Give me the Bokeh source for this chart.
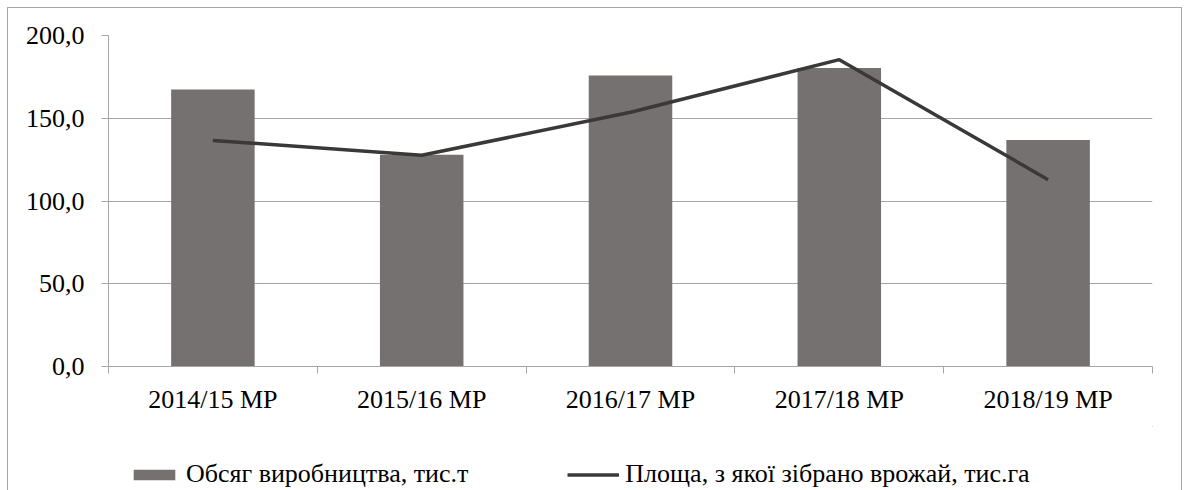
from bokeh.plotting import figure
from bokeh.layouts import column
from bokeh.models import ColumnDataSource, FixedTicker, Legend, LegendItem, Range1d
from bokeh.embed import file_html
from bokeh.resources import INLINE

categories = ["2014/15 МР", "2015/16 МР", "2016/17 МР", "2017/18 МР", "2018/19 МР"]
production = [167.3, 128.0, 175.9, 180.3, 136.9]
area = [136.6, 127.6, 153.6, 185.4, 112.9]
y_ticks = [0, 50, 100, 150, 200]

label_prod = "Обсяг виробництва, тис.т"
label_area = "Площа, з якої зібрано врожай, тис.га"

FONT = "Liberation Serif"
FSIZE = "26px"
GREY = "#a6a6a6"
BAR = "#767171"
LINE = "#3b3838"

xs = [i + 0.5 for i in range(len(categories))]
src = ColumnDataSource(dict(x=xs, cat=categories, prod=production, area=area))

p = figure(width=1173, height=418, output_backend="svg", toolbar_location=None,
           x_range=Range1d(0, len(categories)), y_range=Range1d(0, 200),
           min_border_left=100, min_border_right=29, min_border_top=27,
           min_border_bottom=60)
p.outline_line_color = None
p.background_fill_color = "white"
p.border_fill_color = "white"

p.vbar(x="x", top="prod", width=0.4, source=src, fill_color=BAR, line_color=None)
p.line("x", "area", line_color=LINE, line_width=3.5, source=src)

# x axis
p.xaxis.ticker = FixedTicker(ticks=xs, minor_ticks=list(range(len(categories) + 1)))
p.xaxis.major_label_overrides = {x: c for x, c in zip(xs, categories)}
p.xaxis.major_tick_out = 0
p.xaxis.major_tick_in = 0
p.xaxis.minor_tick_out = 7
p.xaxis.minor_tick_in = 0
p.xaxis.major_label_standoff = 11
p.xgrid.visible = False

# y axis
p.yaxis.ticker = FixedTicker(ticks=y_ticks, minor_ticks=[])
p.yaxis.major_label_overrides = {t: f"{t:.1f}".replace(".", ",") for t in y_ticks}
p.yaxis.major_tick_out = 7
p.yaxis.major_tick_in = 0
p.yaxis.minor_tick_out = 0
p.yaxis.minor_tick_in = 0
p.yaxis.major_label_standoff = 17
p.ygrid.grid_line_color = GREY
p.ygrid.grid_line_width = 1

for ax in (p.xaxis, p.yaxis):
    ax.axis_line_color = GREY
    ax.major_tick_line_color = GREY
    ax.minor_tick_line_color = GREY
    ax.major_label_text_font = FONT
    ax.major_label_text_font_size = FSIZE
    ax.major_label_text_color = "black"

# legend strip below the chart (same data, drawn outside its visible range)
lf = figure(width=1173, height=64, output_backend="svg", toolbar_location=None,
            x_axis_type=None, y_axis_type=None, x_range=Range1d(-20, -19),
            y_range=Range1d(-20, -19), min_border_left=100, min_border_right=29,
            min_border_top=0, min_border_bottom=1)
lf.outline_line_color = None
lf.grid.visible = False
lb = lf.vbar(x="x", top="prod", width=0.4, source=src, fill_color=BAR, line_color=None)
ll = lf.line("x", "area", line_color=LINE, line_width=3.5, source=src)

legend = Legend(items=[LegendItem(label=label_prod, renderers=[lb]),
                       LegendItem(label=label_area, renderers=[ll])],
                orientation="horizontal", location=(20, 0),
                border_line_color=None, background_fill_alpha=0, padding=0, margin=0,
                glyph_width=52, glyph_height=13, label_standoff=6, spacing=99,
                label_text_font=FONT, label_text_font_size=FSIZE,
                label_text_color="black")
lf.add_layout(legend)

layout = column(p, lf, spacing=0)
layout.styles = {"border-top": f"1px solid {GREY}", "border-left": f"1px solid {GREY}",
                 "border-right": f"1px solid {GREY}", "margin-top": "7px",
                 "margin-left": "7px"}

open("out.html", "w").write(file_html(layout, INLINE))
